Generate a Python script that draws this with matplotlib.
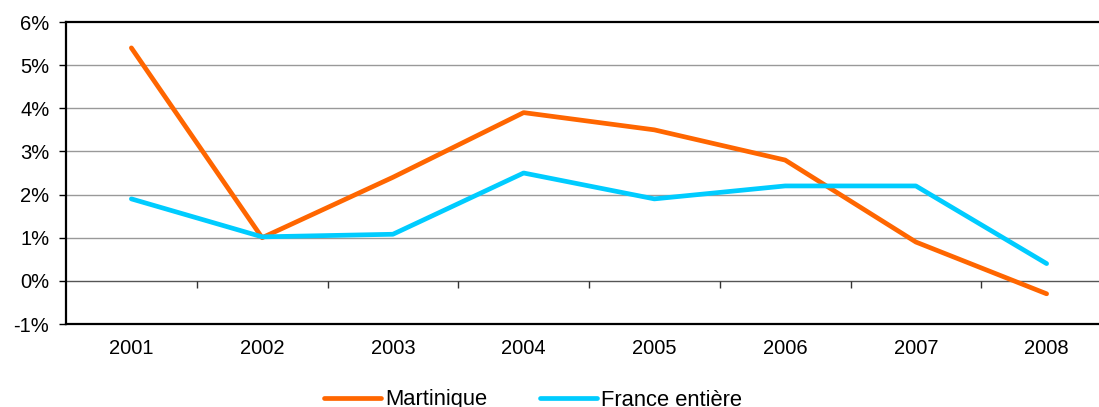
import matplotlib
matplotlib.use("Agg")
import matplotlib.pyplot as plt
from matplotlib.ticker import FuncFormatter

plt.rcParams['font.family'] = ['Liberation Sans', 'DejaVu Sans']

years = ["2001", "2002", "2003", "2004", "2005", "2006", "2007", "2008"]
martinique = [5.4, 1.0, 2.4, 3.9, 3.5, 2.8, 0.9, -0.3]
france = [1.9, 1.02, 1.08, 2.5, 1.9, 2.2, 2.2, 0.4]
y_ticks = [-1, 0, 1, 2, 3, 4, 5, 6]

fig = plt.figure(figsize=(10.99, 4.07), dpi=100)
# axes runs a bit past the right edge, like the original
ax = fig.add_axes([66 / 1099, 83 / 407, 1046 / 1099, 302 / 407])

x = list(range(len(years)))
l1, = ax.plot(x, martinique, color='#FF6600', lw=3.4, solid_capstyle='round', zorder=3)
l2, = ax.plot(x, france, color='#00CCFF', lw=3.4, solid_capstyle='round', zorder=3)

ax.set_xlim(-0.5, len(years) - 0.5)
ax.set_ylim(-1, 6)
ax.set_yticks(y_ticks)
ax.yaxis.set_major_formatter(FuncFormatter(lambda v, p: f"{v:.0f}%"))
ax.set_xticks(x)
ax.set_xticklabels(years)

# gridlines
for v in y_ticks[1:-1]:
    ax.axhline(v, color='#999999' if v != 0 else '#555555', lw=1, zorder=1)

# category axis crosses at 0 with ticks between categories
ax.vlines([i + 0.5 for i in x[:-1]], -0.16, 0, color='#333333', lw=1, zorder=2)

ax.tick_params(axis='y', direction='out', length=5, width=1, color='black',
               labelsize=14.5, pad=7)
ax.tick_params(axis='x', length=0, labelsize=14.5, pad=11)

for s in ['left', 'bottom', 'top']:
    ax.spines[s].set_linewidth(1.6)
    ax.spines[s].set_color('black')
ax.spines['right'].set_visible(False)

fig.legend([l1, l2], ["Martinique", "France entière"], loc='center',
           bbox_to_anchor=(533 / 1099, 1 - 400 / 407), ncol=2, frameon=False,
           fontsize=15.8, handlelength=2.6, handletextpad=0.18, columnspacing=2.4)

fig.savefig("out.png", dpi=100)
